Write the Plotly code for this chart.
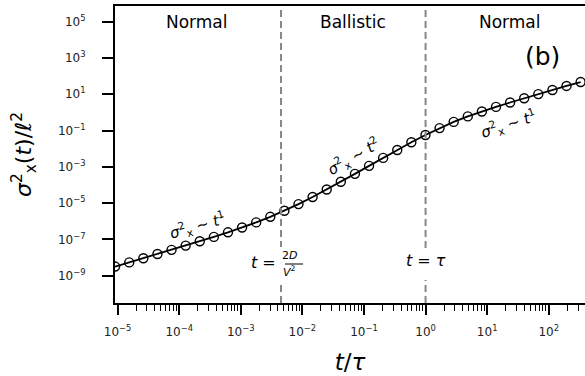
import plotly.graph_objects as go
import math

# ---- data ----
t_over_tau = [9.12e-6, 1.545e-5, 2.618e-5, 4.436e-5, 7.516e-5, 1.274e-4, 2.158e-4,
              3.656e-4, 6.194e-4, 1.050e-3, 1.778e-3, 3.013e-3, 5.105e-3, 8.650e-3,
              1.466e-2, 2.483e-2, 4.207e-2, 7.129e-2, 0.1208, 0.2046, 0.3467, 0.5875,
              0.9954, 1.687, 2.858, 4.842, 8.204, 13.90, 23.55, 39.90, 67.61, 114.6,
              194.1, 328.9]
sigma2 = [3.20e-9, 5.43e-9, 9.21e-9, 1.568e-8, 2.675e-8, 4.584e-8, 7.92e-8,
          1.384e-7, 2.467e-7, 4.53e-7, 8.69e-7, 1.763e-6, 3.82e-6, 8.85e-6,
          2.180e-5, 5.64e-5, 1.508e-4, 4.12e-4, 1.136e-3, 3.126e-3, 8.50e-3,
          2.255e-2, 5.73e-2, 0.1366, 0.2997, 0.602, 1.127, 2.017, 3.526, 6.08,
          10.2, 17.2, 28.8, 47.3]
transition_times = [4.5e-3, 1.0]   # 2D/V^2 and tau
region_labels = ["Normal", "Ballistic", "Normal"]
region_centers = [1.95e-4, 6.6e-2, 23.4]

x_tickvals = [1e-5, 1e-4, 1e-3, 1e-2, 1e-1, 1e0, 1e1, 1e2]
x_ticktext = ["10<sup>−5</sup>", "10<sup>−4</sup>", "10<sup>−3</sup>", "10<sup>−2</sup>",
              "10<sup>−1</sup>", "10<sup>0</sup>", "10<sup>1</sup>", "10<sup>2</sup>"]
y_tickvals = [1e-9, 1e-7, 1e-5, 1e-3, 1e-1, 1e1, 1e3, 1e5]
y_ticktext = ["10<sup>−9</sup>", "10<sup>−7</sup>", "10<sup>−5</sup>", "10<sup>−3</sup>",
              "10<sup>−1</sup>", "10<sup>1</sup>", "10<sup>3</sup>", "10<sup>5</sup>"]
x_minor = [m * 10.0 ** k for k in range(-6, 3) for m in range(2, 10)]

x_range_log = [-5.042, 2.588]
y_range_log = [-10.503, 5.865]

FONT = "DejaVu Sans"

fig = go.Figure()
fig.add_trace(go.Scatter(
    x=t_over_tau, y=sigma2, mode="lines+markers",
    line=dict(color="black", width=1.8),
    marker=dict(symbol="circle-open", size=9, color="black", line=dict(width=1.4)),
    showlegend=False, hoverinfo="skip"))

# dashed transition lines
for tt in transition_times:
    fig.add_shape(type="line", xref="x", yref="paper", x0=tt, x1=tt, y0=0, y1=1,
                  line=dict(color="#888888", width=2, dash="7px,4px"), layer="above")

# white boxes behind the transition labels
def px_to_paper(px, py):
    return ((px - 115) / 470.0, (303 - py) / 297.0)

for (a, b) in [((252, 247), (307, 281)), ((408, 248), (447, 280))]:
    x0, y0 = px_to_paper(*a)
    x1, y1 = px_to_paper(*b)
    fig.add_shape(type="rect", xref="paper", yref="paper", x0=x0, x1=x1, y0=y1, y1=y0,
                  fillcolor="white", line=dict(width=0), layer="above")

# fraction bar
fx0, fy = px_to_paper(285, 264)
fx1, _ = px_to_paper(303, 264)
fig.add_shape(type="line", xref="paper", yref="paper", x0=fx0, x1=fx1, y0=fy, y1=fy,
              line=dict(color="black", width=1), layer="above")

ann = []
def A(**kw):
    kw.setdefault("showarrow", False)
    kw.setdefault("xanchor", "center")
    kw.setdefault("yanchor", "middle")
    ann.append(kw)

# region labels
for lab, xc in zip(region_labels, region_centers):
    A(x=math.log10(xc), y=0.947, xref="x", yref="paper", text=lab,
      font=dict(size=17, color="black", family=FONT))
# panel label
A(x=1.906, y=3.057, xref="x", yref="y", text="(b)",
  font=dict(size=25, color="black", family=FONT))
# transition labels
A(x=0.0, y=-8.18, xref="x", yref="y", text="<i>t</i> = <i>τ</i>",
  font=dict(size=16, color="black", family=FONT))
A(x=-2.63, y=-8.29, xref="x", yref="y", text="<i>t</i> =",
  font=dict(size=16, color="black", family=FONT))
A(x=-2.21, y=-7.90, xref="x", yref="y", text="2<i>D</i>",
  font=dict(size=11, color="black", family=FONT))
A(x=-2.21, y=-8.74, xref="x", yref="y", text="<i>V</i><sup>2</sup>",
  font=dict(size=11, color="black", family=FONT))
# slope labels
for (lx, ly, ang, p) in [(-3.71, -6.25, -16, "1"), (-1.178, -2.45, -30, "2"), (1.354, -0.63, -18, "1")]:
    A(x=lx, y=ly, xref="x", yref="y",
      text="<i>σ</i><sup>2</sup><sub>x</sub> ~ <i>t</i><sup>%s</sup>" % p,
      textangle=ang, font=dict(size=15, color="black", family=FONT))

fig.update_layout(
    width=585, height=376,
    margin=dict(l=115, r=0, t=6, b=73),
    paper_bgcolor="white", plot_bgcolor="white",
    font=dict(family=FONT, color="black"),
    annotations=ann,
    xaxis=dict(type="log", range=x_range_log, showgrid=False, zeroline=False,
               showline=True, linecolor="black", linewidth=2, mirror=True,
               ticks="outside", ticklen=10, tickwidth=2, tickcolor="black",
               tickvals=x_tickvals, ticktext=x_ticktext, ticklabelstandoff=7,
               tickfont=dict(size=12, color="#222222", family=FONT),
               minor=dict(tickvals=x_minor, ticks="outside", ticklen=6, tickwidth=1.3,
                          tickcolor="black", showgrid=False),
               title=dict(text="<i>t</i>/<i>τ</i>", font=dict(size=23, family=FONT),
                          standoff=15)),
    yaxis=dict(type="log", range=y_range_log, showgrid=False, zeroline=False,
               showline=True, linecolor="black", linewidth=2,
               ticks="outside", ticklen=11, tickwidth=2, tickcolor="black",
               tickvals=y_tickvals, ticktext=y_ticktext, ticklabelstandoff=14,
               tickfont=dict(size=12, color="#222222", family=FONT),
               title=dict(text="<i>σ</i><sup>2</sup><sub>x</sub>(<i>t</i>)/<i>ℓ</i><sup>2</sup>",
                          font=dict(size=22, family=FONT), standoff=20)),
)

fig.write_html("out.html")
